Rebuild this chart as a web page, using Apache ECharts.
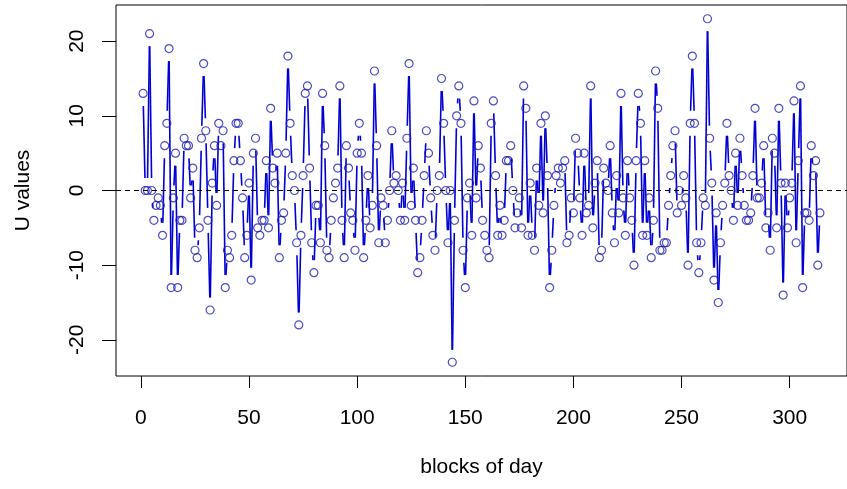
<!DOCTYPE html>
<html>
<head>
<meta charset="utf-8">
<script src="https://cdn.jsdelivr.net/npm/echarts@6/dist/echarts.min.js"></script>
<style>
html,body{margin:0;padding:0;background:#fff;}
#chart{width:847px;height:489px;}
</style>
</head>
<body>
<div id="chart"></div>
<script>
// U values, in order of blocks of day (1..n)
const values = [
  13, 0, 0, 21, 0, -4, -2, -1, -2, -6, 6, 9, 19, -13, -1, 5, -13, -4, -4, 7, 6, 6,
  -1, 3, -8, -9, -5, 7, 17, 8, -4, -16, 1, 6, -2, 9, 6, 8, -13, -8, -9, -6, 4, 9, 9, 4, -1, -9, -6, 1, -12, 5, 7, -5, -6, -4,
  -4, 4, -5, 11, 3, 1, 5, -9, -4, -3, 5, 18, 9, 2, 0, -7, -18, -6, 2, 13, 14, 3, -7, -11, -2, -2, -7, 13, 6, -8, -9, -4,
  -1, 1, 3, 14, -4, -9, 6, 3, -3, -4, -8, 5, 9, 5, -9, -4, 2, -5, -2, 16, 6, -7, -1, -2, -7, -4, 0, 8, 1, 2, 0, -4, 1,
  -4, 7, 17, -2, 3, -4, -11, -9, -4, 2, 8, 5, -1, -6, -8, 0, 2, 15, 9, 0, -7, 0, -23, -4, 10, 14, 9, -8, -13, -1, 1,
  -6, 12, -1, 6, 3, -4, -6, -8, -9, 9, 12, 2, -6, -2, -6, -4, 4, 4, 6, 0, -5, -3, -1, -5, 14, 11, -6, 1, -6, -8, 3, -2,
  9, -3, 10, 2, -13, -8, -2, 2, 3, 1, 3, 4, -7, -6, -1, -3, 7, 5, -1, -6, 5, -3, -2, 14, -5, 1, 4, -9, -8, 3, 1,
  0, 6, -3, -7, 2, -3, 13, -1, -6, 4, -1, -4, -10, 4, 13, 9, -6, 4, -6, -1, -9, -4, 16, 11, -8, -8, -7, -7, -2, 2, 6,
  8, -3, 0, -2, 2, -1, -10, 9, 18, 9, -7, -11, -7, -1, -2, 23, 7, 1, -12, -3, -15, -7, -2, 1, 9, 2, 0, -4, 5, -2, 7,
  2, -2, -4, -4, -3, 2, 11, -1, -1, 1, 6, -5, -3, -8, 7, 5, -5, 11, 1, -14, 1, -5, -1, 1, 12, -7, 4, 14, -13, -3, -3, -4, 6, 2, 4, -10, -3
];
const blocks = values.map((_, i) => i + 1);
const xTicks = [0, 50, 100, 150, 200, 250, 300];
const yTicks = [-20, -10, 0, 10, 20];
const xTitle = 'blocks of day';
const yTitle = 'U values';

const n = values.length;
const xPad = 0.04 * (n - 1);
const yMinData = Math.min(...values), yMaxData = Math.max(...values);
const yPad = 0.04 * (yMaxData - yMinData);

const points = blocks.map((b, i) => [b, values[i]]);
const segs = [];
for (let i = 0; i < n - 1; i++) segs.push([blocks[i], values[i], blocks[i + 1], values[i + 1]]);

const LINE_BLUE = '#0000d4';
const PT_BLUE = '#1e1eb4';
const FONT = "'Liberation Sans', Arial, sans-serif";
const GAP = 12.5;

const chart = echarts.init(document.getElementById('chart'), null, {renderer: 'canvas'});
chart.setOption({
  animation: false,
  backgroundColor: '#fff',
  grid: {left: 116, top: 5, width: 741, height: 371, show: true, borderColor: '#000', borderWidth: 1, backgroundColor: 'transparent'},
  xAxis: {
    type: 'value', min: 1 - xPad, max: n + xPad,
    name: xTitle, nameLocation: 'middle', nameGap: 81,
    nameTextStyle: {fontFamily: FONT, fontSize: 21, color: '#000'},
    axisLine: {show: false, onZero: false},
    axisTick: {show: true, length: 12, customValues: xTicks, lineStyle: {color: '#000', width: 1}},
    axisLabel: {show: true, customValues: xTicks, margin: 32, fontFamily: FONT, fontSize: 21, color: '#000'},
    splitLine: {show: false}
  },
  yAxis: {
    type: 'value', min: yMinData - yPad, max: yMaxData + yPad,
    name: yTitle, nameLocation: 'middle', nameGap: 82, nameRotate: 90,
    nameTextStyle: {fontFamily: FONT, fontSize: 21, color: '#000'},
    axisLine: {show: false, onZero: false},
    axisTick: {show: true, length: 14, customValues: yTicks, lineStyle: {color: '#000', width: 1}},
    axisLabel: {show: true, customValues: yTicks, rotate: 90, margin: 28, fontFamily: FONT, fontSize: 21, color: '#000'},
    splitLine: {show: false}
  },
  series: [
    {
      type: 'custom',
      data: segs,
      encode: {x: [0, 2], y: [1, 3]},
      silent: true,
      renderItem: function (params, api) {
        const p0 = api.coord([api.value(0), api.value(1)]);
        const p1 = api.coord([api.value(2), api.value(3)]);
        const dx = p1[0] - p0[0], dy = p1[1] - p0[1];
        const len = Math.hypot(dx, dy);
        if (len <= 2 * GAP) return null;
        const ux = dx / len, uy = dy / len;
        return {
          type: 'line',
          shape: {x1: p0[0] + ux * GAP, y1: p0[1] + uy * GAP, x2: p1[0] - ux * GAP, y2: p1[1] - uy * GAP},
          style: {stroke: LINE_BLUE, lineWidth: 1.6}
        };
      }
    },
    {
      type: 'scatter',
      data: points,
      symbol: 'circle',
      symbolSize: 8,
      silent: true,
      itemStyle: {color: 'rgba(0,0,0,0)', borderColor: PT_BLUE, borderWidth: 1.2},
      markLine: {
        silent: true, symbol: ['none', 'none'], animation: false,
        label: {show: false},
        lineStyle: {color: '#000', width: 1, type: [5, 4]},
        data: [{yAxis: 0}]
      }
    }
  ]
});
</script>
</body>
</html>
